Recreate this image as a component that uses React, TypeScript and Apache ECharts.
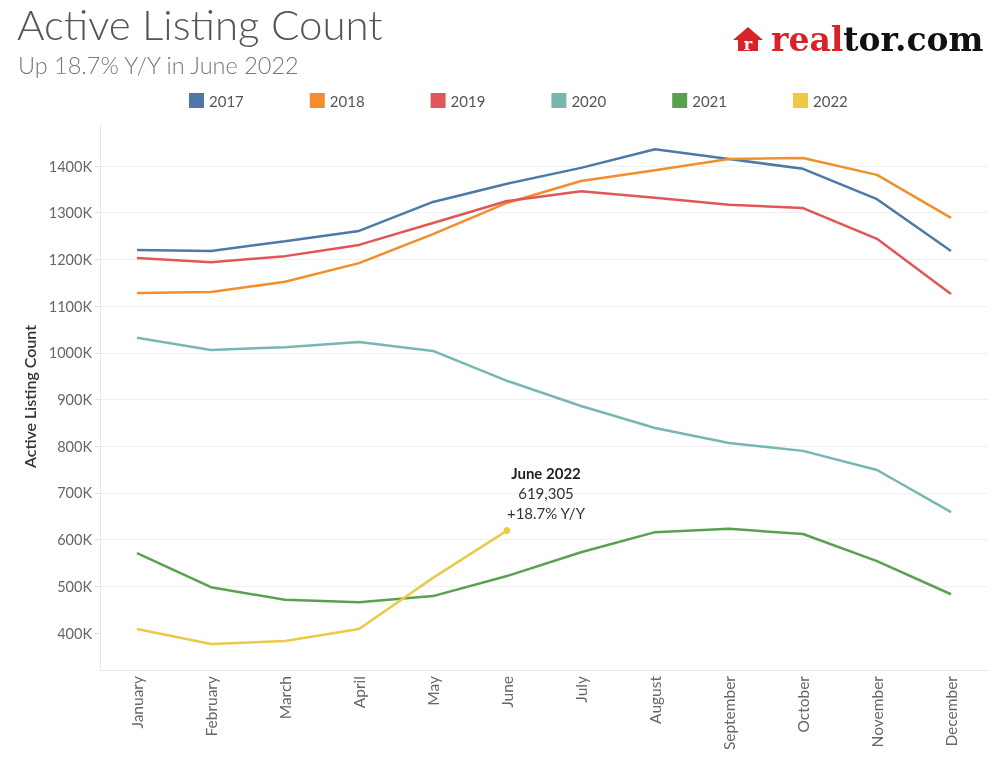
import React, { useEffect, useRef } from "react";
import * as echarts from "echarts";

const months = ["January", "February", "March", "April", "May", "June", "July", "August", "September", "October", "November", "December"];
const years = ["2017", "2018", "2019", "2020", "2021", "2022"];
const colors = ["#4e79a7", "#f28e2b", "#e15759", "#76b7b2", "#59a14f", "#edc948"];

const s2017 = [1220000, 1218000, 1239000, 1261000, 1323000, 1362000, 1396000, 1436000, 1415000, 1394000, 1329000, 1218000];
const s2018 = [1128000, 1130000, 1152000, 1192000, 1254000, 1321000, 1368000, 1391000, 1415000, 1417000, 1381000, 1289000];
const s2019 = [1203000, 1194000, 1207000, 1231000, 1278000, 1325000, 1346000, 1332000, 1317000, 1310000, 1244000, 1126000];
const s2020 = [1032000, 1006000, 1012000, 1023000, 1004000, 940000, 886000, 839000, 807000, 790000, 749000, 659000];
const s2021 = [571000, 498000, 471000, 466000, 479000, 522000, 573000, 616000, 623000, 612000, 554000, 483000];
const s2022 = [408600, 376400, 383000, 408600, 518000, 619305];

const yTicks = [400000, 500000, 600000, 700000, 800000, 900000, 1000000, 1100000, 1200000, 1300000, 1400000];
const annotation = { title: "June 2022", value: "619,305", change: "+18.7% Y/Y" };

const seriesValues = [s2017, s2018, s2019, s2020, s2021, s2022];

const FONT = "Lato, 'Open Sans', sans-serif";
const LOGO_FONT = "'DejaVu Serif', 'Liberation Serif', serif";

export default function App() {
  const ref = useRef<HTMLDivElement>(null);

  useEffect(() => {
    if (!ref.current) return;
    const chart = echarts.init(ref.current, null, { renderer: "svg" });

    const series: any[] = years.map((y, i) => {
      const vals = seriesValues[i];
      const isLast = i === years.length - 1;
      return {
        name: y,
        type: "line",
        symbol: "none",
        showSymbol: true,
        lineStyle: { width: 2.5, color: colors[i] },
        itemStyle: { color: colors[i] },
        data: vals.map((v, j) => {
          if (isLast && j === vals.length - 1) {
            return {
              value: v,
              symbol: "circle",
              symbolSize: 7,
              label: {
                show: true,
                position: "top",
                distance: 4,
                offset: [39, 0],
                formatter: () =>
                  `{b|${annotation.title}}\n{n|${annotation.value}}\n{n|${annotation.change}}`,
                rich: {
                  b: { fontFamily: FONT, fontSize: 15, fontWeight: "bold", color: "#222", lineHeight: 20, align: "center" },
                  n: { fontFamily: FONT, fontSize: 15, color: "#333", lineHeight: 20, align: "center" },
                },
              },
            };
          }
          return v;
        }),
        z: 2 + i,
      };
    });

    const splitColors = ["rgba(0,0,0,0)"].concat(yTicks.map(() => "#f0f0f0")).concat(["rgba(0,0,0,0)"]);

    chart.setOption({
      animation: false,
      color: colors,
      textStyle: { fontFamily: FONT },
      legend: {
        data: years,
        left: 184,
        top: 88,
        icon: "rect",
        itemWidth: 15,
        itemHeight: 15,
        itemGap: 66,
        textStyle: { fontFamily: FONT, fontSize: 15, color: "#555" },
      },
      grid: { left: 100, right: 8, top: 119.3, bottom: 79.3, containLabel: false },
      xAxis: {
        type: "category",
        data: months,
        boundaryGap: true,
        offset: -9.7,
        axisLine: { show: true, lineStyle: { color: "#e6e6e6", width: 1 } },
        axisTick: { show: false },
        axisLabel: { rotate: 90, margin: 6, fontFamily: FONT, fontSize: 15.5, color: "#666" },
        splitLine: { show: false },
      },
      yAxis: {
        type: "value",
        min: 300000,
        max: 1500000,
        interval: 100000,
        name: "Active Listing Count",
        nameLocation: "middle",
        nameGap: 60,
        nameTextStyle: { fontFamily: FONT, fontSize: 16, color: "#333", fontWeight: 600, padding: [0, 0, 0, 6] },
        axisLine: { show: false },
        axisTick: { show: true, length: 5, lineStyle: { color: "#e0e0e0" }, customValues: yTicks },
        axisLabel: {
          customValues: yTicks,
          margin: 8,
          fontFamily: FONT,
          fontSize: 14.5,
          color: "#666",
          formatter: (v: number) => (v < 400000 || v > 1400000 ? "" : `${Math.round(v / 1000)}K`),
        },
        splitLine: { show: true, lineStyle: { color: splitColors, width: 1 } },
      },
      graphic: [
        {
          type: "line",
          shape: { x1: 100.5, y1: 124, x2: 100.5, y2: 670 },
          style: { stroke: "#e6e6e6", lineWidth: 1 },
          silent: true,
        },
        {
          type: "text",
          left: 17,
          top: 3,
          style: { text: "Active Listing Count", fontFamily: FONT, fontWeight: 300, fontSize: 42, fill: "#555" },
        },
        {
          type: "text",
          left: 18,
          top: 53,
          style: { text: "Up 18.7% Y/Y in June 2022", fontFamily: FONT, fontWeight: 300, fontSize: 23.5, fill: "#777" },
        },
        {
          type: "polygon",
          shape: { points: [[733, 40], [748, 27], [763, 40], [758, 40], [758, 51], [738, 51], [738, 40]] },
          style: { fill: "#d92228" },
        },
        {
          type: "text",
          x: 748,
          y: 44,
          style: { text: "r", fontFamily: LOGO_FONT, fontWeight: "bold", fontSize: 16, fill: "#fff", align: "center", verticalAlign: "middle" },
        },
        {
          type: "text",
          x: 771,
          y: 39,
          style: {
            text: "{r|real}{k|tor.com}",
            verticalAlign: "middle",
            rich: {
              r: { fontFamily: LOGO_FONT, fontWeight: "bold", fontSize: 33, fill: "#d92228" },
              k: { fontFamily: LOGO_FONT, fontWeight: "bold", fontSize: 33, fill: "#111" },
            },
          },
        },
      ],
      series,
    });

    return () => chart.dispose();
  }, []);

  return <div ref={ref} style={{ position: "fixed", left: 0, top: 0, width: 996, height: 759 }} />;
}
